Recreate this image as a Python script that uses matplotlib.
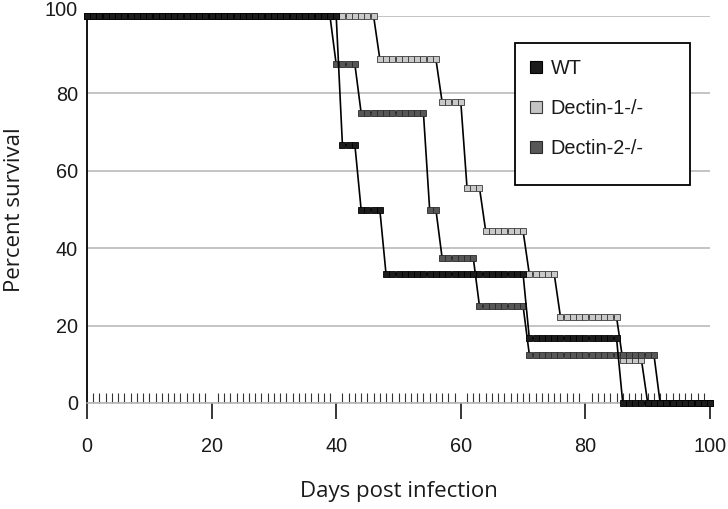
import numpy as np
import matplotlib
matplotlib.use("Agg")
import matplotlib.pyplot as plt
from matplotlib.lines import Line2D
from matplotlib.patches import Rectangle
from matplotlib.transforms import ScaledTranslation

# survival levels: day on which each level starts, and the level (%)
wt_start = [0, 41, 44, 48, 71, 86]
wt_surv = [100, 66.7, 50, 33.3, 16.7, 0]

d1_start = [0, 47, 57, 61, 64, 71, 76, 86, 90]
d1_surv = [100, 88.9, 77.8, 55.6, 44.4, 33.3, 22.2, 11.1, 0]

d2_start = [0, 40, 44, 55, 57, 63, 71, 92]
d2_surv = [100, 87.5, 75, 50, 37.5, 25, 12.5, 0]

days = np.arange(0, 101)
labels = ["WT", "Dectin-1-/-", "Dectin-2-/-"]


def daily(start, surv):
    idx = np.searchsorted(start, days, side="right") - 1
    return np.array(surv)[idx]


fig = plt.figure(figsize=(7.28, 5.09), dpi=100)
ax = fig.add_axes([87/728, 1-403/509, (710-87)/728, (403-16)/509])

# Dectin-1 at the bottom, WT on top
series = [
    (d1_start, d1_surv, "#c9c9c9", "#3a3a3a"),
    (d2_start, d2_surv, "#575757", "#2a2a2a"),
    (wt_start, wt_surv, "#1c1c1c", "#000000"),
]
for z, (st, sv, fc, ec) in enumerate(series):
    ax.plot(days, daily(st, sv), color="black", lw=1.2, marker="s", ms=4.3,
            mfc=fc, mec=ec, mew=0.6, clip_on=False, zorder=3 + z)

ax.set_xlim(0, 100)
ax.set_ylim(0, 100)
ax.set_xticks([0, 20, 40, 60, 80, 100])
ax.set_xticks(np.arange(1, 100), minor=True)
ax.set_yticks([0, 20, 40, 60, 80, 100])

ax.grid(axis="y", color="#b4b4b4", lw=1.1)
ax.set_axisbelow(True)
for s in ["top", "right"]:
    ax.spines[s].set_visible(False)
ax.spines["left"].set_color("black")
ax.spines["left"].set_linewidth(1.3)
ax.spines["bottom"].set_color("#b4b4b4")
ax.spines["bottom"].set_linewidth(1.1)

ax.tick_params(axis="x", which="major", direction="out", length=11.5, width=1.1,
               color="black", pad=13)
ax.tick_params(axis="x", which="minor", direction="in", length=7.2, width=0.8,
               color="#333333")
ax.tick_params(axis="y", length=0, pad=6.5)
for lab in ax.get_xticklabels() + ax.get_yticklabels():
    lab.set_fontfamily("Liberation Sans")
    lab.set_fontsize(14.3)
    lab.set_color("#1a1a1a")
top = ax.get_yticklabels()[-1]
top.set_transform(top.get_transform() + ScaledTranslation(0, 0.07, fig.dpi_scale_trans))

ax.set_xlabel("Days post infection", fontfamily="Open Sans", fontsize=16,
              color="#1a1a1a", labelpad=18)
ax.set_ylabel("Percent survival", fontfamily="Open Sans", fontsize=16,
              color="#1a1a1a", labelpad=14)

# legend box
fig.patches.append(Rectangle((515/728, 1-185/509), 175/728, 142/509,
                             transform=fig.transFigure, fill=True, fc="white",
                             ec="black", lw=1.3, zorder=10))
handles = [
    Line2D([], [], ls="none", marker="s", ms=8.5, mfc="#1c1c1c", mec="#000000", mew=0.8),
    Line2D([], [], ls="none", marker="s", ms=8.5, mfc="#c4c4c4", mec="#3a3a3a", mew=0.8),
    Line2D([], [], ls="none", marker="s", ms=8.5, mfc="#575757", mec="#2a2a2a", mew=0.8),
]
leg = fig.legend(handles, labels, loc="upper left", bbox_to_anchor=(515/728, 1-43/509),
                 bbox_transform=fig.transFigure, frameon=False, borderpad=0.8,
                 borderaxespad=0, handlelength=0.5, handletextpad=0.5,
                 labelspacing=1.05, prop={"family": "Liberation Sans", "size": 14.3})
leg.set_zorder(11)
for t in leg.get_texts():
    t.set_color("#1a1a1a")

fig.savefig("out.png", dpi=100)
